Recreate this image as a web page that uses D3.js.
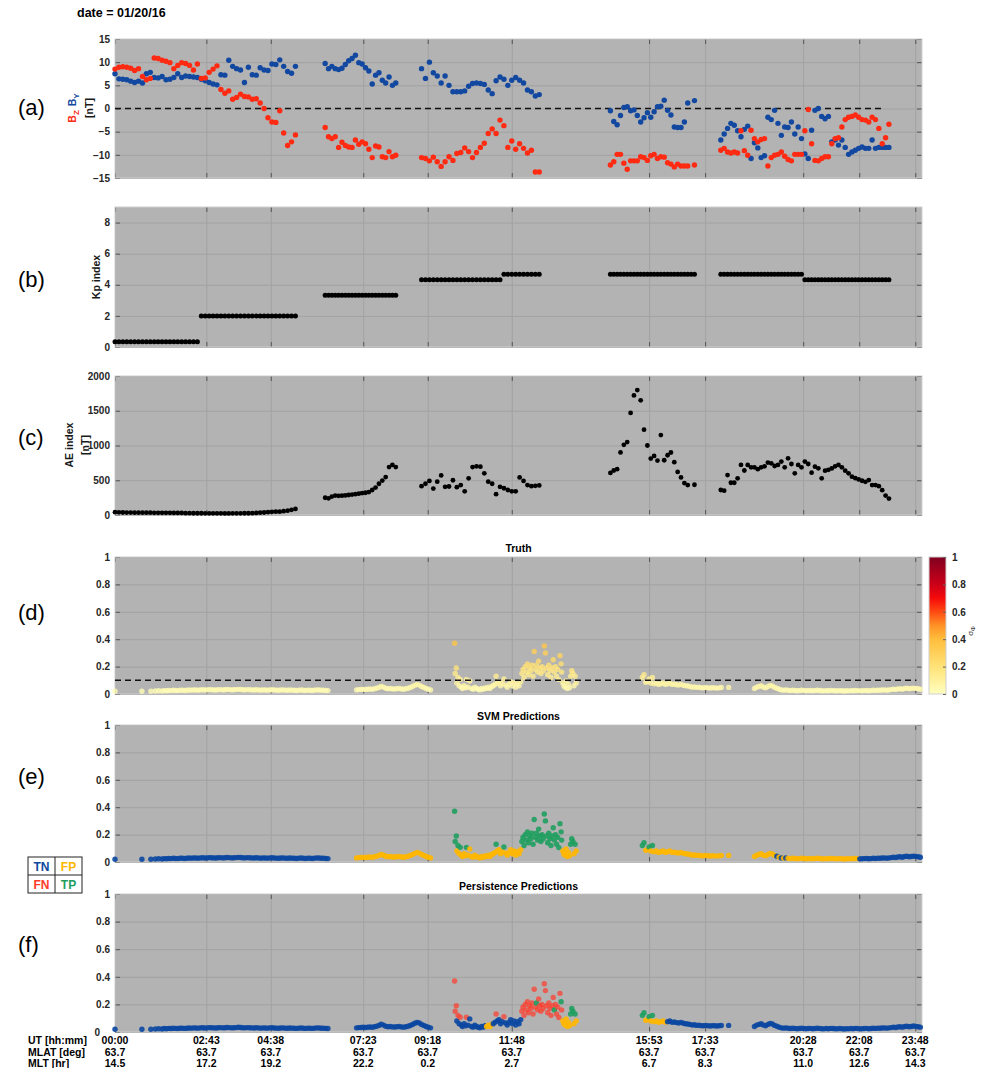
<!DOCTYPE html>
<html>
<head>
<meta charset="utf-8">
<script src="https://cdn.jsdelivr.net/npm/d3@7"></script>
<style>
  body { margin: 0; background: #fff; }
  svg text { font-family: "Liberation Sans", Arial, sans-serif; }
</style>
</head>
<body>
<svg id="chart" width="991" height="1068"></svg>
<script>
// x ticks, minutes after 00:00 UT
const tickMin = [0, 163, 278, 443, 558, 708, 953, 1053, 1228, 1328, 1428];
const utLabels = ['00:00', '02:43', '04:38', '07:23', '09:18', '11:48', '15:53', '17:33', '20:28', '22:08', '23:48'];
const mlatLabels = ['63.7', '63.7', '63.7', '63.7', '63.7', '63.7', '63.7', '63.7', '63.7', '63.7', '63.7'];
const mltLabels = ['14.5', '17.2', '19.2', '22.2', '0.2', '2.7', '6.7', '8.3', '11.0', '12.6', '14.3'];

// IMF and AE samples (minutes)
const imfTime = [
  0,7,14,21,28,35,42,49,56,63,70,77,84,91,98,105,112,119,126,133,140,147,154,161,168,175,182,189,196,203,210,217,224,231,238,245,252,259,266,273,280,287,294,301,308,315,322,
  375,381,387,393,399,405,411,417,423,429,435,441,447,453,459,465,471,477,483,489,495,501,
  547,554,561,568,575,582,589,596,603,610,617,624,631,638,645,652,659,666,673,680,687,694,701,708,715,722,729,736,743,750,757,
  884,890,896,902,908,914,920,926,932,938,944,950,956,962,968,974,980,986,992,998,1004,1010,1016,1022,1028,1034,
  1081,1087,1093,1099,1105,1111,1117,1123,1129,1135,1141,1147,1153,1159,1165,1171,1177,1183,1189,1195,1201,1207,1213,1219,1225,1231,1237,1243,1249,1255,1261,1267,1273,1279,1285,1291,1297,1303,1309,1315,1321,1327,1333,1339,1345,1351,1357,1363,1369,1375,1381
];
const byVals = [
  7.5,6.4,6.3,6.2,5.9,5.6,5.9,5.5,7.5,7.8,6.7,6.6,6.9,6.2,6.3,6.7,7.5,6.7,7.0,6.9,6.8,6.7,6.3,6.0,5.6,5.3,5.1,7.3,7.2,10.4,9.1,8.6,8.3,5.6,8.9,7.3,7.2,8.8,8.3,8.2,9.6,9.5,10.5,9.1,8.0,7.6,9.1,
  9.7,8.6,9.1,8.6,8.4,8.7,9.5,10.3,10.8,11.5,9.9,9.6,8.8,8.1,5.3,7.2,7.7,6.1,5.5,6.8,5.0,5.5,
  8.6,6.5,10.0,7.7,7.0,5.5,7.0,5.0,3.6,3.6,3.6,3.8,4.8,5.4,5.5,5.4,5.2,4.0,3.2,6.0,6.8,6.3,5.0,6.1,6.7,6.1,5.5,4.0,3.6,2.7,3.0,
  -0.5,-2.8,-3.5,-1.5,0.2,0.4,-0.5,-0.3,-1.5,-2.9,-2.0,-0.9,-1.9,-0.7,0.4,0.5,1.8,-0.4,-1.4,-4.0,-4.1,-4.1,-2.9,1.2,null,1.7,
  -6.8,-5.5,-4.3,-3.2,-3.6,-4.8,-6.1,-4.5,-3.8,-10.8,-7.4,-8.5,-10.6,-10.2,-1.9,-2.4,-0.4,-3.2,-5.8,-4.0,-4.1,-2.9,-5.5,-4.0,-6.5,-9.8,-10.8,-4.7,-0.4,0.0,-1.7,-2.2,-1.7,-7.2,-6.8,-7.9,-6.8,-8.4,-9.9,-9.4,-9.0,-8.6,-8.3,-8.6,-8.6,-6.8,-8.6,-8.4,-8.4,-8.4,-8.4
];
const bzVals = [
  8.5,8.9,9.0,8.9,8.7,8.2,8.6,6.9,6.2,6.5,10.9,10.8,10.4,10.2,9.9,8.6,9.3,9.9,9.7,9.3,8.3,9.6,6.5,6.6,7.8,8.5,9.2,4.1,3.3,3.8,2.0,2.4,3.1,2.6,2.5,2.0,2.1,1.2,0.0,-2.0,-2.9,-3.0,-0.5,-5.3,-8.0,-7.2,-5.7,
  -4.1,-6.1,-6.5,-6.1,-8.4,-7.3,-8.0,-8.3,-8.4,-6.8,-7.7,-7.2,-7.6,-8.8,-10.6,-8.1,-8.3,-10.4,-10.6,-9.3,-10.4,-10.1,
  -10.6,-10.8,-11.3,-10.5,-11.5,-12.5,-11.5,-10.4,-11.2,-9.7,-9.5,-8.5,-9.3,-10.6,-9.5,-8.4,-7.5,-5.4,-4.4,-5.4,-2.5,-3.7,-8.4,-7.0,-8.8,-7.6,-8.6,-9.6,-9.0,-13.7,-13.7,
  -12.2,-11.5,-9.9,-9.9,-11.8,-13.1,-11.3,-11.3,-11.3,-10.4,-10.6,-11.2,-10.2,-9.9,-10.8,-10.4,-10.5,-11.7,-12.0,-12.6,-12.0,-12.4,-12.4,-12.4,null,-12.2,
  -9.0,-8.6,-9.4,-9.6,-9.4,-9.6,-4.8,-9.1,-10.1,-4.7,-6.5,-7.2,-6.7,-6.5,-12.4,-10.6,-10.1,-9.9,-9.4,-10.3,-11.0,-11.3,-9.9,-9.9,-9.9,-4.8,-0.2,-7.6,-11.2,-11.3,-10.8,-10.4,-10.4,-7.6,-6.5,-6.3,-4.0,-2.4,-1.9,-1.7,-1.4,-1.9,-2.4,-2.5,-2.9,-1.9,-2.4,-4.3,-7.6,-6.3,-3.4
];
const aeVals = [
  40,38,36,35,35,34,34,33,33,33,32,32,32,31,31,30,30,30,26,26,25,25,25,24,24,24,24,24,23,23,24,24,24,25,25,26,30,33,36,40,45,48,48,55,62,75,87,
  248,240,265,280,276,278,282,288,294,300,307,315,320,330,360,395,450,495,545,690,720,690,
  415,450,490,380,480,570,406,410,500,400,430,340,527,690,700,696,600,480,450,300,406,385,360,340,340,541,490,430,415,420,425,
  605,640,660,900,1010,1050,1469,1720,1797,1650,1227,1000,812,850,783,1150,788,860,899,760,620,540,460,430,null,435,
  360,350,575,464,464,527,720,640,720,686,686,660,686,700,754,744,705,720,768,686,816,734,599,720,686,768,734,609,696,672,527,638,650,670,700,720,686,638,599,551,530,512,493,478,502,430,430,415,357,280,237
];

// Kp, 3-hour bins (bin start in minutes)
const kpBinStart = [-30, 150, 330, 510, 690, 870, 1050, 1230];
const kpVals = [0.33, 2.0, 3.33, 4.33, 4.67, 4.67, 4.67, 4.33];

// sigma-phi truth samples and binary predictions (1 = active)
const sigTime = [
  0,
  48,64,72,78,84,88,92,96,100,104,108,112,116,120,124,128,132,136,140,144,148,152,156,160,164,168,172,176,180,184,188,192,196,200,204,208,212,216,220,224,228,232,236,240,244,248,252,256,260,264,268,272,276,280,284,288,292,296,300,304,308,312,316,320,324,328,332,336,340,344,348,352,356,360,364,368,372,376,380,
  431,435,439,443,447,451,455,459,463,467,471,475,479,483,487,491,495,499,503,507,511,515,519,523,527,531,535,539,543,547,551,555,559,563,
  606,607,609,610,612,614,616,618,620,623,626,627,630,633,636,639,642,645,648,651,654,657,660,663,666,669,672,675,678,680,682,685,688,691,694,697,700,703,706,709,712,715,718,721,724,726,728,730,732,734,736,738,740,742,744,746,748,750,752,754,756,758,760,762,764,766,768,770,772,774,776,778,780,782,784,786,788,790,792,794,796,797,799,801,803,805,807,809,811,813,815,817,819,821,823,
  941,944,947,950,953,956,959,962,966,970,974,978,982,986,990,994,998,1002,1006,1010,1014,1018,1022,1026,1030,1034,1038,1042,1046,1050,1054,1058,1062,1066,1070,1074,1078,1082,1095,
  1141,1145,1149,1153,1157,1161,1165,1169,1173,1177,1181,1185,1189,1193,1197,1201,1205,1209,1213,1217,1221,1225,1229,1233,1237,1241,1245,1249,1253,1257,1261,1265,1269,1273,1277,1281,1285,1289,1293,1297,1301,1305,1309,1313,1317,1321,1325,1329,1333,1337,1341,1345,1349,1353,1357,1361,1365,1369,1373,1377,1381,1385,1389,1393,1397,1401,1405,1409,1413,1417,1421,1425,1429,1433,1437
];
const sigVals = [
  0.02,
  0.02,0.02,0.022,0.024,
  0.022,0.025,0.024,0.026,0.025,0.027,0.026,0.025,0.027,0.028,0.026,0.027,0.029,0.028,0.03,0.029,0.028,0.03,0.031,0.029,
  0.03,0.032,0.031,0.03,0.029,0.031,0.032,0.03,0.031,0.033,0.032,0.03,0.031,0.032,0.034,0.033,0.031,0.03,0.032,0.031,
  0.03,0.029,0.031,0.03,0.028,0.03,0.029,0.028,0.03,0.031,0.029,0.028,0.027,0.029,0.03,0.028,0.027,0.029,0.028,0.027,
  0.026,0.028,0.029,0.027,0.026,0.028,0.027,0.026,0.028,0.03,0.029,0.027,0.028,0.026,0.025,
  0.03,0.032,0.033,0.034,0.033,0.035,0.036,0.034,0.038,0.042,0.048,0.056,0.05,0.042,0.038,0.04,0.037,0.036,0.038,0.04,0.037,0.035,0.038,0.042,0.047,0.055,0.063,0.07,0.065,0.055,0.048,0.04,0.035,0.03,
  0.37,0.15,0.19,0.08,0.12,0.06,0.107,0.05,0.04,0.06,0.045,0.107,0.05,0.095,0.04,0.035,0.05,0.04,0.035,0.03,0.04,0.035,0.045,0.04,0.05,0.04,0.055,0.06,0.07,0.13,0.08,0.09,0.06,0.075,0.11,0.065,0.05,0.07,0.09,0.06,0.08,0.05,0.075,0.06,0.09,0.15,0.18,0.12,0.2,0.16,0.22,0.14,0.19,0.17,0.21,0.13,0.31,0.18,0.21,0.16,0.24,0.19,0.15,0.2,0.17,0.35,0.3,0.19,0.14,0.21,0.17,0.12,0.19,0.25,0.16,0.2,0.13,0.18,0.105,0.28,0.22,0.16,0.08,0.06,0.05,0.095,0.04,0.07,0.045,0.13,0.17,0.15,0.06,0.13,0.08,
  0.12,0.14,0.085,0.09,0.11,0.08,0.12,0.075,0.08,0.07,0.075,0.08,0.07,0.075,0.08,0.07,0.072,0.068,0.065,0.07,0.063,0.06,0.058,0.055,0.05,0.052,0.048,0.05,0.046,0.045,0.048,0.045,0.044,0.046,0.045,0.043,0.045,0.047,0.048,
  0.04,0.05,0.055,0.06,0.05,0.045,0.055,0.062,0.058,0.048,0.042,0.035,0.03,0.028,0.03,0.027,0.025,0.027,0.026,0.024,0.025,0.027,0.026,0.024,0.025,0.026,0.024,0.025,0.027,0.026,0.024,0.023,0.025,0.024,0.026,0.025,0.024,0.023,0.025,0.024,0.022,0.024,0.023,0.025,0.024,0.026,0.025,0.023,0.024,0.025,0.026,0.024,0.025,0.027,0.026,0.028,0.027,0.029,0.03,0.028,0.03,0.032,0.035,0.033,0.036,0.038,0.035,0.04,0.042,0.038,0.04,0.043,0.041,0.038,0.035
];
const svmPred = [
  '0',
  '0000000000000000000000000000000000000000000000000000000000000000000000000000000',
  '1111111111111111111111111111111111',
  '11111111111111111111111111111111111111111111111111111111111111111111111111111111111111111111111',
  '111111111111111111111111111111111111111',
  '1111111111' + '01010' + '11111111111111111111111111111111' + '0000000000000000000000000000'
].join('');
const persPred = [
  '0',
  '0000000000000000000000000000000000000000000000000000000000000000000000000000000',
  '0000000000000000000000000000000000',
  '00000000000000000000000' + '1111' + '0000000000000000000000000000000' + '1' + '000000000000000' + '1' + '00000' + '1' + '0' + '1111111111111',
  '1111111111111' + '00000000000000000000000000',
  '000000000000000000000000000000000000000000000000000000000000000000000000000'
].join('');
const sigThreshold = 0.1;

// colour map for the truth panel
const cmapStops = [0, 0.2, 0.4, 0.5, 0.6, 0.7, 0.8, 1];
const cmapColors = ['#ffffbf', '#ffe278', '#ffbe3c', '#ff9226', '#ff4a12', '#f50a0a', '#cc0018', '#800020'];
const classColors = { TN: '#0b47a1', FP: '#ffb700', FN: '#ff3b2a', TP: '#1e9e5e' };

const svg = d3.select('#chart');
const X0 = 115, X1 = 922;
const x = d3.scaleLinear().domain([0, 1440]).range([X0, X1]);

function styleAxis(s, color) {
  s.select('.domain').remove();
  s.selectAll('line').attr('stroke', color);
  s.selectAll('text').attr('font-family', '"Liberation Sans", Arial, sans-serif')
    .attr('font-size', 10).attr('font-weight', 'bold').attr('fill', '#262626');
}

// background, grid, ticks for one panel; returns the y scale
function makePanel(top, bottom, domain, yTicks, fmt) {
  const y = d3.scaleLinear().domain(domain).range([bottom, top]);
  const g = svg.append('g');
  g.append('rect').attr('x', X0).attr('y', top).attr('width', X1 - X0).attr('height', bottom - top)
    .attr('fill', '#b3b3b3');
  g.append('g').attr('transform', `translate(0,${bottom})`)
    .call(d3.axisBottom(x).tickValues(tickMin).tickSize(-(bottom - top)).tickFormat(''))
    .call(s => styleAxis(s, '#a2a2a2'));
  g.append('g').attr('transform', `translate(${X0},0)`)
    .call(d3.axisLeft(y).tickValues(yTicks).tickSize(-(X1 - X0)).tickFormat(''))
    .call(s => styleAxis(s, '#a2a2a2'));
  g.append('g').attr('transform', `translate(0,${bottom})`)
    .call(d3.axisBottom(x).tickValues(tickMin).tickSizeInner(-5).tickSizeOuter(0).tickFormat(''))
    .call(s => styleAxis(s, '#555'));
  g.append('g').attr('transform', `translate(0,${top})`)
    .call(d3.axisTop(x).tickValues(tickMin).tickSizeInner(-5).tickSizeOuter(0).tickFormat(''))
    .call(s => styleAxis(s, '#555'));
  g.append('g').attr('transform', `translate(${X1},0)`)
    .call(d3.axisRight(y).tickValues(yTicks).tickSizeInner(-5).tickSizeOuter(0).tickFormat(''))
    .call(s => styleAxis(s, '#555'));
  g.append('g').attr('class', 'ylab').attr('transform', `translate(${X0},0)`)
    .call(d3.axisLeft(y).tickValues(yTicks).tickSizeInner(-5).tickSizeOuter(0).tickPadding(5).tickFormat(fmt))
    .call(s => styleAxis(s, '#555'));
  g.append('rect').attr('x', X0).attr('y', top).attr('width', X1 - X0).attr('height', bottom - top)
    .attr('fill', 'none').attr('stroke', '#cfcfcf').attr('stroke-width', 1);
  return { y, g };
}

function panelLabel(txt, yc) {
  svg.append('text').attr('x', 18).attr('y', yc + 7).attr('font-size', 22)
    .attr('font-family', '"Liberation Sans", Arial, sans-serif').text(txt);
}

function vLabel(xb, yc) {
  return svg.append('text').attr('transform', `translate(${xb},${yc}) rotate(-90)`)
    .attr('text-anchor', 'middle').attr('font-size', 10.5).attr('font-weight', 'bold').attr('fill', '#1a1a1a');
}

function dashed(y, v, t0, t1) {
  svg.append('line').attr('x1', x(t0)).attr('x2', x(t1)).attr('y1', y(v)).attr('y2', y(v))
    .attr('stroke', '#111').attr('stroke-width', 1.4).attr('stroke-dasharray', '6,4');
}

// title
svg.append('text').attr('x', 77).attr('y', 17).attr('font-size', 12.5).attr('font-weight', 'bold')
  .text('date = 01/20/16');

// (a) IMF By / Bz
const yA = makePanel(39, 178, [-15, 15], [-15, -10, -5, 0, 5, 10, 15], d3.format('d')).y;
dashed(yA, 0, 0, 1370);
const imf = imfTime.map((t, i) => ({ t, by: byVals[i], bz: bzVals[i], ae: aeVals[i] }));
svg.append('g').selectAll('circle').data(imf.filter(d => d.by !== null)).join('circle')
  .attr('cx', d => x(d.t)).attr('cy', d => yA(d.by)).attr('r', 2.7).attr('fill', '#1248a0');
svg.append('g').selectAll('circle').data(imf.filter(d => d.bz !== null)).join('circle')
  .attr('cx', d => x(d.t)).attr('cy', d => yA(d.bz)).attr('r', 2.7).attr('fill', '#ff2a12');
panelLabel('(a)', 108);
const la = vLabel(76, 108);
la.append('tspan').attr('fill', '#ff2a12').text('B');
la.append('tspan').attr('fill', '#ff2a12').attr('font-size', 8).attr('dy', 3).text('Z');
la.append('tspan').attr('fill', '#1248a0').attr('dx', 4).attr('dy', -3).text('B');
la.append('tspan').attr('fill', '#1248a0').attr('font-size', 8).attr('dy', 3).text('Y');
vLabel(93, 108).text('[nT]');

// (b) Kp
const yB = makePanel(207, 347, [0, 9], [0, 2, 4, 6, 8], d3.format('d')).y;
const kpAt = t => kpVals[d3.bisectRight(kpBinStart, t) - 1];
svg.append('g').selectAll('circle').data(imfTime).join('circle')
  .attr('cx', t => x(t)).attr('cy', t => yB(kpAt(t))).attr('r', 2.5).attr('fill', '#000');
panelLabel('(b)', 280);
vLabel(100, 277).text('Kp index');

// (c) AE
const yC = makePanel(376, 515, [0, 2000], [0, 500, 1000, 1500, 2000], d3.format('d')).y;
svg.append('g').selectAll('circle').data(imf.filter(d => d.ae !== null)).join('circle')
  .attr('cx', d => x(d.t)).attr('cy', d => yC(d.ae)).attr('r', 2.4).attr('fill', '#000');
panelLabel('(c)', 438);
vLabel(73, 445).text('AE index');
vLabel(89, 445).text('[nT]');

// sigma-phi rows
const sig = sigTime.map((t, i) => {
  const truth = sigVals[i] > sigThreshold ? 1 : 0;
  const cls = (p) => truth ? (p ? 'TP' : 'FN') : (p ? 'FP' : 'TN');
  return { t, v: sigVals[i], svm: cls(svmPred[i] === '1'), pers: cls(persPred[i] === '1') };
});
const sigTicks = [0, 0.2, 0.4, 0.6, 0.8, 1];
const sigFmt = d => d === 0 || d === 1 ? String(d) : d3.format('.1f')(d);
const cmap = d3.scaleLinear().domain(cmapStops).range(cmapColors).interpolate(d3.interpolateRgb);

function subTitle(txt, yb) {
  svg.append('text').attr('x', (X0 + X1) / 2).attr('y', yb).attr('text-anchor', 'middle')
    .attr('font-size', 10.5).attr('font-weight', 'bold').text(txt);
}

// (d) truth
const yD = makePanel(557, 694, [0, 1], sigTicks, sigFmt).y;
svg.append('g').selectAll('circle').data(sig).join('circle')
  .attr('cx', d => x(d.t)).attr('cy', d => yD(d.v)).attr('r', 2.7)
  .attr('fill', d => cmap(d.v)).attr('fill-opacity', 0.8);
dashed(yD, sigThreshold, 0, 1430);
subTitle('Truth', 552);
panelLabel('(d)', 613);

// colour bar
const grad = svg.append('defs').append('linearGradient').attr('id', 'cbar')
  .attr('x1', 0).attr('y1', 1).attr('x2', 0).attr('y2', 0);
cmapStops.forEach((s, i) => grad.append('stop').attr('offset', s).attr('stop-color', cmapColors[i]));
svg.append('rect').attr('x', 929).attr('y', 557).attr('width', 17).attr('height', 137)
  .attr('fill', 'url(#cbar)').attr('stroke', '#cfcfcf');
svg.append('g').attr('transform', 'translate(946,0)')
  .call(d3.axisRight(yD).tickValues(sigTicks).tickSizeInner(-3).tickSizeOuter(0).tickPadding(6).tickFormat(sigFmt))
  .call(s => styleAxis(s, '#666'));
const cbl = svg.append('text').attr('transform', 'translate(973,631) rotate(-90)')
  .attr('text-anchor', 'middle').attr('font-size', 8).attr('fill', '#333');
cbl.append('tspan').text('σ');
cbl.append('tspan').attr('font-size', 6).attr('dy', 2).text('Φ');

// (e) SVM predictions
const yE = makePanel(725, 862, [0, 1], sigTicks, sigFmt).y;
svg.append('g').selectAll('circle').data(sig).join('circle')
  .attr('cx', d => x(d.t)).attr('cy', d => yE(d.v)).attr('r', 2.7)
  .attr('fill', d => classColors[d.svm]).attr('fill-opacity', d => d.svm === 'FN' ? 0.7 : 0.9);
subTitle('SVM Predictions', 720);
panelLabel('(e)', 777);

// (f) persistence predictions
const pf = makePanel(894, 1032, [0, 1], sigTicks, sigFmt);
const yF = pf.y;
// the zero label sits left of the "00:00" time label, as in the original
pf.g.select('.ylab').selectAll('text').filter(d => d === 0).attr('x', -15);
svg.append('g').selectAll('circle').data(sig).join('circle')
  .attr('cx', d => x(d.t)).attr('cy', d => yF(d.v)).attr('r', 2.7)
  .attr('fill', d => classColors[d.pers]).attr('fill-opacity', d => d.pers === 'FN' ? 0.7 : 0.9);
subTitle('Persistence Predictions', 890);
panelLabel('(f)', 945);

// legend box
const lg = svg.append('g').attr('transform', 'translate(28,857)');
lg.append('rect').attr('width', 54).attr('height', 36).attr('fill', '#fff').attr('stroke', '#222');
lg.append('line').attr('x1', 27).attr('x2', 27).attr('y1', 0).attr('y2', 36).attr('stroke', '#222');
lg.append('line').attr('x1', 0).attr('x2', 54).attr('y1', 18).attr('y2', 18).attr('stroke', '#222');
[['TN', 13.5, 13.5], ['FP', 40.5, 13.5], ['FN', 13.5, 31.5], ['TP', 40.5, 31.5]].forEach(([k, cx, cy]) => {
  lg.append('text').attr('x', cx).attr('y', cy).attr('text-anchor', 'middle').attr('font-size', 12)
    .attr('font-weight', 'bold').attr('fill', classColors[k]).text(k);
});

// bottom tick label rows
const rows = [['UT [hh:mm]', utLabels, 1044], ['MLAT [deg]', mlatLabels, 1056], ['MLT [hr]', mltLabels, 1067]];
rows.forEach(([name, labels, yb]) => {
  svg.append('text').attr('x', 28).attr('y', yb).attr('font-size', 10.5).attr('font-weight', 'bold').text(name);
  svg.append('g').selectAll('text').data(labels).join('text')
    .attr('x', (d, i) => x(tickMin[i])).attr('y', yb).attr('text-anchor', 'middle')
    .attr('font-size', 10.5).attr('font-weight', 'bold').text(d => d);
});
</script>
</body>
</html>
